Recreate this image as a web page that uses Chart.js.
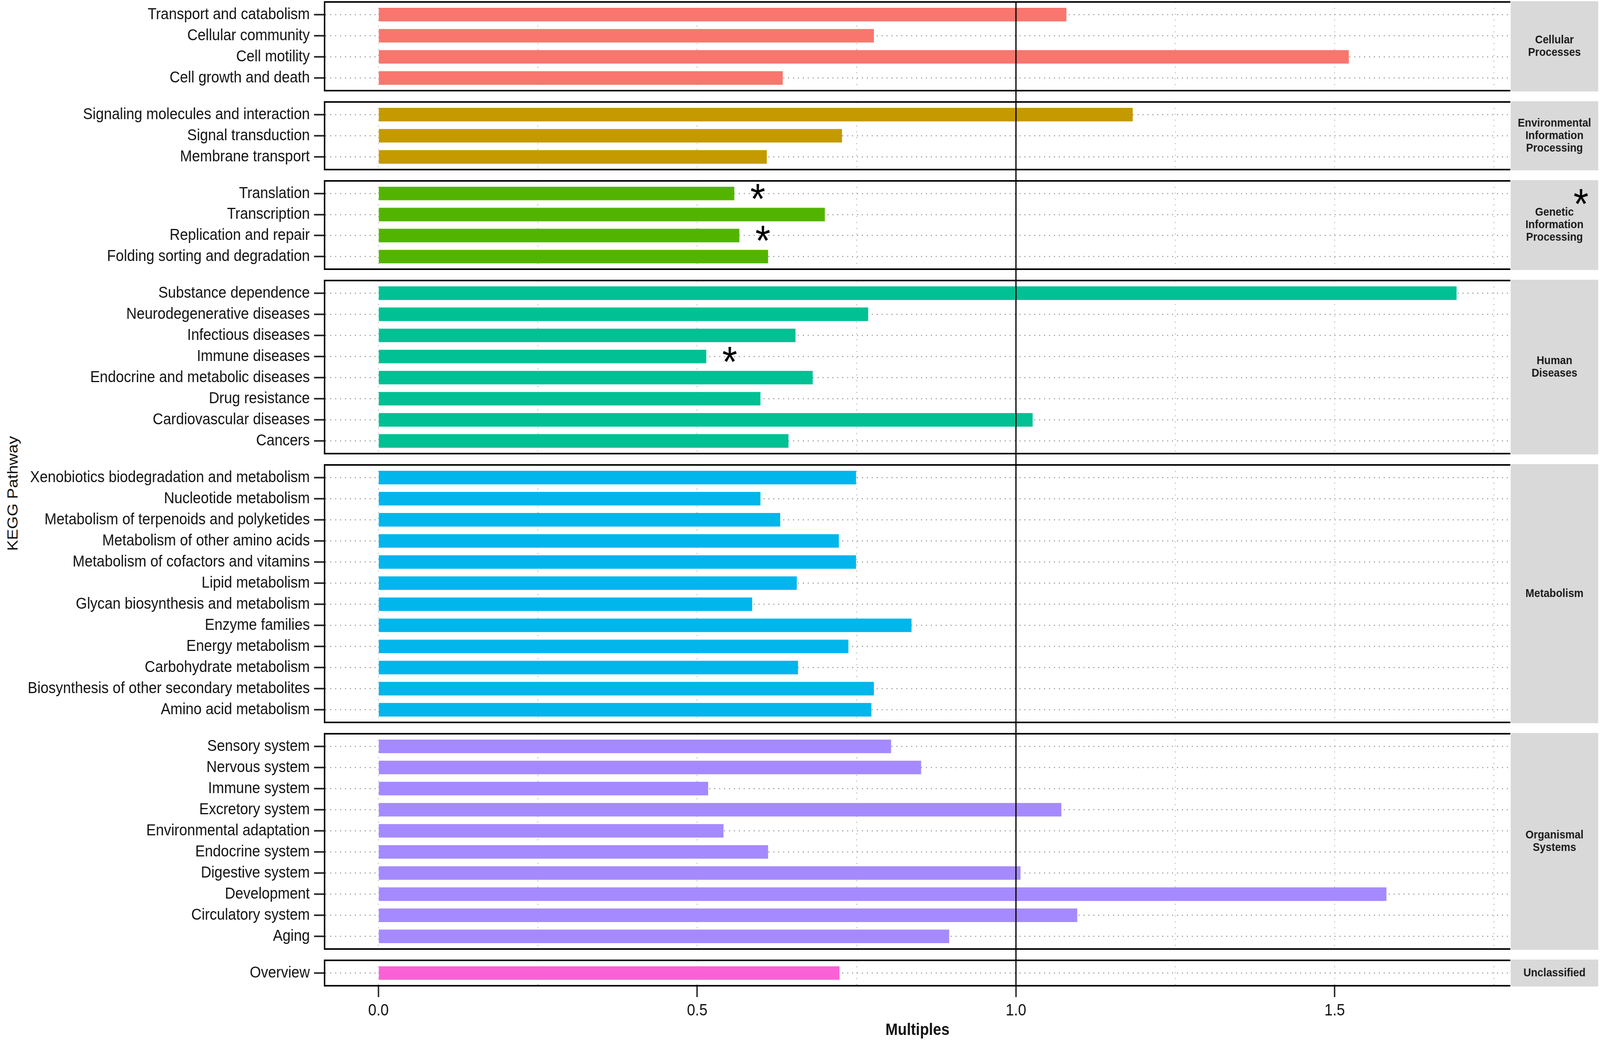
<!DOCTYPE html>
<html>
<head>
<meta charset="utf-8">
<script src="https://cdn.jsdelivr.net/npm/chart.js@4.4.1/dist/chart.umd.min.js"></script>
<style>
html,body{margin:0;padding:0;background:#fff;overflow:hidden;}
#outer{position:relative;overflow:hidden;background:#fff;}
#wrap{position:absolute;left:0;top:0;width:4550px;height:2667px;overflow:hidden;background:#fff;transform-origin:0 0;}
.pane{position:absolute;left:0;width:4550px;}
#ytitle{position:absolute;left:36px;top:1263px;font:42px "Liberation Sans",Arial,sans-serif;color:#111;white-space:nowrap;transform:translate(-50%,-50%) rotate(-90deg);}
</style>
</head>
<body>
<div id="outer"><div id="wrap"><div id="ytitle"></div></div></div>
<script>
// ---------------- data ----------------
const groupNames = ["Cellular Processes","Environmental Information Processing","Genetic Information Processing","Human Diseases","Metabolism","Organismal Systems","Unclassified"];
const stripLines = [["Cellular","Processes"],["Environmental","Information","Processing"],["Genetic","Information","Processing"],["Human","Diseases"],["Metabolism"],["Organismal","Systems"],["Unclassified"]];

const catsCellular = ["Transport and catabolism","Cellular community","Cell motility","Cell growth and death"];
const valsCellular = [1.079, 0.777, 1.522, 0.634];

const catsEnvironmental = ["Signaling molecules and interaction","Signal transduction","Membrane transport"];
const valsEnvironmental = [1.183, 0.727, 0.609];

const catsGenetic = ["Translation","Transcription","Replication and repair","Folding sorting and degradation"];
const valsGenetic = [0.558, 0.700, 0.566, 0.611];

const catsHuman = ["Substance dependence","Neurodegenerative diseases","Infectious diseases","Immune diseases","Endocrine and metabolic diseases","Drug resistance","Cardiovascular diseases","Cancers"];
const valsHuman = [1.691, 0.768, 0.654, 0.514, 0.681, 0.599, 1.026, 0.643];

const catsMetabolism = ["Xenobiotics biodegradation and metabolism","Nucleotide metabolism","Metabolism of terpenoids and polyketides","Metabolism of other amino acids","Metabolism of cofactors and vitamins","Lipid metabolism","Glycan biosynthesis and metabolism","Enzyme families","Energy metabolism","Carbohydrate metabolism","Biosynthesis of other secondary metabolites","Amino acid metabolism"];
const valsMetabolism = [0.749, 0.599, 0.630, 0.722, 0.749, 0.656, 0.586, 0.836, 0.737, 0.658, 0.777, 0.773];

const catsOrganismal = ["Sensory system","Nervous system","Immune system","Excretory system","Environmental adaptation","Endocrine system","Digestive system","Development","Circulatory system","Aging"];
const valsOrganismal = [0.804, 0.851, 0.517, 1.071, 0.541, 0.611, 1.007, 1.581, 1.096, 0.895];

const catsUnclassified = ["Overview"];
const valsUnclassified = [0.723];

const groupColors = ["#F8766D","#C49A00","#53B400","#00C094","#00B6EB","#A58AFF","#FB61D7"];

const xTickValues = [0, 0.25, 0.5, 0.75, 1.0, 1.25, 1.5, 1.75];
const xLabelValues = [0, 0.5, 1.0, 1.5];
const xLabelTexts = ["0.0", "0.5", "1.0", "1.5"];
const refLineValue = 1.0;
const starredPathways = ["Translation","Replication and repair","Immune diseases"];
const starredGroups = ["Genetic Information Processing"];
const xTitleText = "Multiples";
const yTitleText = "KEGG Pathway";

const allCats = [catsCellular, catsEnvironmental, catsGenetic, catsHuman, catsMetabolism, catsOrganismal, catsUnclassified];
const allVals = [valsCellular, valsEnvironmental, valsGenetic, valsHuman, valsMetabolism, valsOrganismal, valsUnclassified];

// ---------------- layout ----------------
const W = 4550, H = 2667;
const PLOT_L = 923, PLOT_R = 4295, STRIP_L = 4296, STRIP_R = 4545;
const TOP0 = 5, UNIT = 54, GAP = 29, PAD = 4;
const FONT = '"Liberation Sans", Arial, sans-serif';
const maxVal = Math.max(...allVals.flat());
const xMin = -0.05 * maxVal, xMax = 1.05 * maxVal;

// stretch the fixed 4550x2667 design over the whole viewport
const vw = window.innerWidth || document.documentElement.clientWidth || W;
const vh = window.innerHeight || document.documentElement.clientHeight || H;
const sx = vw / W, sy = vh / H;
const outer = document.getElementById('outer');
outer.style.width = vw + 'px';
outer.style.height = vh + 'px';
const wrap = document.getElementById('wrap');
wrap.style.transform = 'scale(' + sx + ',' + sy + ')';

const tops = [], heights = [];
{ let y = TOP0; allCats.forEach(c => { const h = (c.length + 0.2) * UNIT; tops.push(y); heights.push(h); y += h + GAP; }); }

document.getElementById('ytitle').textContent = yTitleText;

function isMajor(v){ return xLabelValues.some(m => Math.abs(m - v) < 1e-6); }

function drawStar(ctx, cx, cy, size){
  ctx.save();
  ctx.font = size + 'px ' + FONT;
  ctx.fillStyle = '#000';
  ctx.textAlign = 'center';
  ctx.textBaseline = 'alphabetic';
  const m = ctx.measureText('*');
  const asc = m.actualBoundingBoxAscent, desc = m.actualBoundingBoxDescent;
  ctx.fillText('*', cx, cy + (asc - desc) / 2);
  ctx.restore();
}

function makeChart(gi){
  const cats = allCats[gi], vals = allVals[gi];
  const n = cats.length;
  const isLast = gi === allCats.length - 1;
  const pTop = Math.round(tops[gi]);
  const pBottom = Math.round(tops[gi] + heights[gi]);
  const cTop = pTop - PAD;
  const cBottom = isLast ? H : Math.round(tops[gi + 1]);

  const div = document.createElement('div');
  div.className = 'pane';
  div.style.top = cTop + 'px';
  div.style.height = (cBottom - cTop) + 'px';
  const cv = document.createElement('canvas');
  div.appendChild(cv);
  wrap.appendChild(div);

  const panelPlugin = {
    id: 'panel' + gi,
    afterDatasetsDraw(chart){
      const ctx = chart.ctx, ca = chart.chartArea, xs = chart.scales.x;
      const xp = xs.getPixelForValue(refLineValue);
      ctx.save();
      ctx.strokeStyle = '#000';
      ctx.lineWidth = 3.5;
      ctx.beginPath();
      ctx.moveTo(xp, ca.top);
      ctx.lineTo(xp, isLast ? ca.bottom : chart.height);
      ctx.stroke();
      ctx.restore();
    },
    afterDraw(chart){
      const ctx = chart.ctx, ca = chart.chartArea, xs = chart.scales.x, ys = chart.scales.y;
      ctx.save();
      ctx.strokeStyle = '#000';
      ctx.lineWidth = 4;
      ctx.beginPath();
      ctx.moveTo(ca.left - 2, ca.top); ctx.lineTo(ca.right, ca.top);
      ctx.moveTo(ca.left - 2, ca.bottom); ctx.lineTo(ca.right, ca.bottom);
      ctx.stroke();
      ctx.fillStyle = '#D9D9D9';
      ctx.fillRect(STRIP_L, ca.top - 2, STRIP_R - STRIP_L, ca.bottom - ca.top + 4);
      const lines = stripLines[gi];
      const lh = 32;
      const cx = (STRIP_L + STRIP_R) / 2;
      const cy = (ca.top + ca.bottom) / 2;
      ctx.fillStyle = '#1a1a1a';
      ctx.font = 'bold 30px ' + FONT;
      ctx.textAlign = 'center';
      ctx.textBaseline = 'middle';
      lines.forEach((t, i) => {
        ctx.fillText(t, cx, cy + (i - (lines.length - 1) / 2) * lh);
      });
      ctx.restore();
      cats.forEach((c, i) => {
        if (starredPathways.includes(c)) {
          drawStar(ctx, xs.getPixelForValue(vals[i] + 0.037), ys.getPixelForValue(i) - 5, 110);
        }
      });
      if (starredGroups.includes(groupNames[gi])) {
        drawStar(ctx, STRIP_R - 49, ca.top + 40, 110);
      }
    }
  };

  new Chart(cv, {
    type: 'bar',
    data: {
      datasets: [{
        data: vals.map((v, i) => ({ x: v, y: i })),
        backgroundColor: groupColors[gi],
        borderWidth: 0,
        barThickness: Math.round(0.63 * UNIT)
      }]
    },
    options: {
      indexAxis: 'y',
      responsive: true,
      maintainAspectRatio: false,
      animation: false,
      layout: { padding: { top: PAD, left: 0, right: W - PLOT_R, bottom: isLast ? 0 : (cBottom - pBottom) } },
      plugins: { legend: { display: false }, tooltip: { enabled: false } },
      scales: {
        x: {
          type: 'linear', position: 'bottom', min: xMin, max: xMax, offset: false,
          afterBuildTicks: s => { s.ticks = xTickValues.map(v => ({ value: v })); },
          afterFit: s => { s.height = isLast ? (H - pBottom) : 0; s.paddingLeft = 0; s.paddingRight = 0; },
          grid: {
            offset: false,
            color: '#bdbdbd', lineWidth: 2.5,
            drawTicks: isLast, tickLength: 29, tickWidth: 4, tickBorderDash: [],
            tickColor: c => (c.tick && isMajor(c.tick.value)) ? '#222' : 'rgba(0,0,0,0)'
          },
          border: { display: false, dash: [3, 12] },
          ticks: {
            display: isLast, autoSkip: false, maxRotation: 0, padding: 10,
            font: { family: FONT, size: 42 }, color: '#111',
            callback: v => { const k = xLabelValues.findIndex(m => Math.abs(m - v) < 1e-6); return k >= 0 ? xLabelTexts[k] : ''; }
          },
          title: { display: isLast, text: xTitleText, color: '#111', font: { family: FONT, size: 42, weight: 'bold' }, padding: { top: 0, bottom: 4 } }
        },
        y: {
          type: 'linear', min: -0.6, max: n - 0.4, reverse: true, offset: false,
          afterBuildTicks: s => { s.ticks = cats.map((_, i) => ({ value: i })); },
          afterFit: s => { s.width = PLOT_L; s.paddingTop = 0; s.paddingBottom = 0; },
          grid: {
            offset: false,
            color: '#a0a0a0', lineWidth: 3,
            drawTicks: true, tickLength: 30, tickWidth: 4, tickColor: '#222', tickBorderDash: []
          },
          border: { display: true, color: '#000', width: 4, dash: [3, 11] },
          ticks: {
            autoSkip: false, padding: 12,
            font: { family: FONT, size: 41 }, color: '#111',
            callback: v => { const k = Math.round(v); return (k >= 0 && k < n) ? cats[k] : ''; }
          }
        }
      }
    },
    plugins: [panelPlugin]
  });
}

allCats.forEach((_, gi) => makeChart(gi));
</script>
</body>
</html>
